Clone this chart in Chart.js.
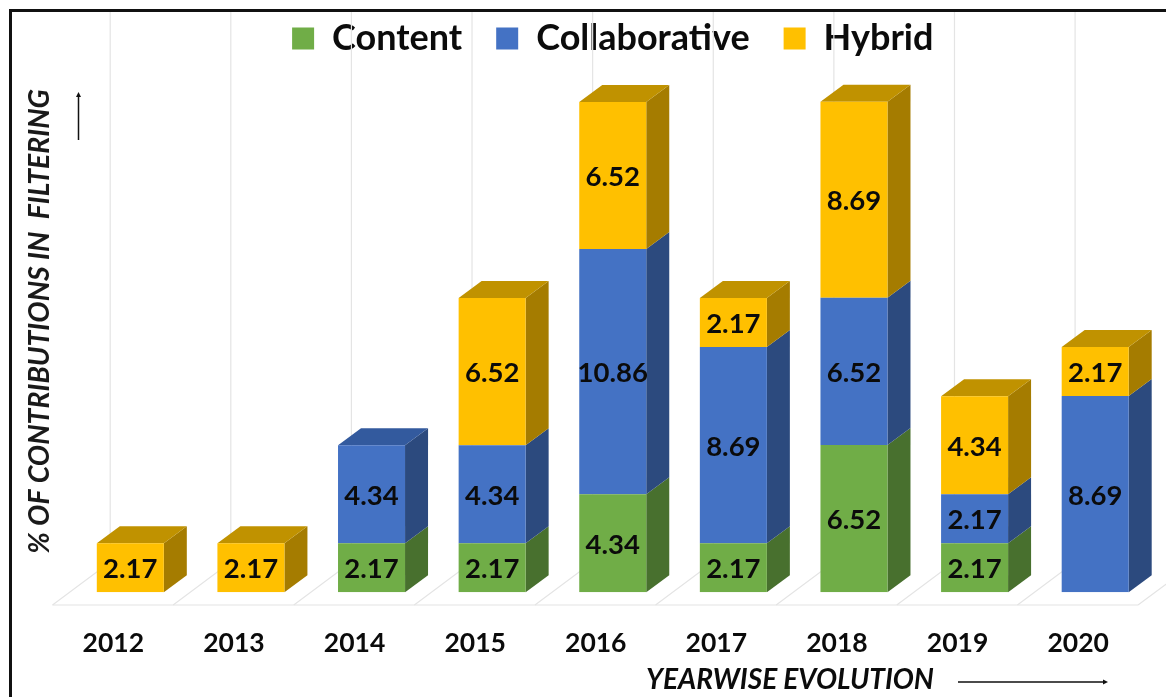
<!DOCTYPE html>
<html>
<head>
<meta charset="utf-8">
<title>Yearwise evolution</title>
<script src="https://cdn.jsdelivr.net/npm/chart.js@4"></script>
<style>
  body { margin: 0; background: #fff; }
  #wrap { position: relative; width: 1166px; height: 697px; overflow: hidden; }
  #frame { position: absolute; left: 9px; top: 9px; right: -5px; bottom: -5px; border-left: 3px solid #111; border-top: 3px solid #111; }
  canvas { position: absolute; left: 0; top: 0; }
</style>
</head>
<body>
<div id="wrap">
  <canvas id="myChart" width="1166" height="697"></canvas>
  <div id="frame"></div>
</div>
<script>
const years = ['2012', '2013', '2014', '2015', '2016', '2017', '2018', '2019', '2020'];
const content = [null, null, 2.17, 2.17, 4.34, 2.17, 6.52, 2.17, null];
const collaborative = [null, null, 4.34, 4.34, 10.86, 8.69, 6.52, 2.17, 8.69];
const hybrid = [2.17, 2.17, null, 6.52, 6.52, 2.17, 8.69, 4.34, 2.17];

const frontColors = ['#70AD47', '#4472C4', '#FFC000'];
const sideColors = ['#48702E', '#2C4A7E', '#A57C00'];
const topColors = ['#557F38', '#335A9E', '#C09200'];

const depthX = 23;
const depthY = 17;
const textFont = 'Lato, sans-serif';

function poly(ctx, pts, color) {
    ctx.fillStyle = color;
    ctx.beginPath();
    pts.forEach(function(p, i) {
        if (i === 0) ctx.moveTo(p[0], p[1]);
        else ctx.lineTo(p[0], p[1]);
    });
    ctx.closePath();
    ctx.fill();
}

// floor, back grid lines and the side/top faces of the bars
const box3d = {
    id: 'box3d',
    beforeDatasetsDraw(chart) {
        const ctx = chart.ctx;
        const x = chart.scales.x;
        const floorY = 605;
        const step = x.getPixelForValue(1) - x.getPixelForValue(0);
        const first = x.getPixelForValue(0) - step / 2 - 17.5;
        ctx.save();
        ctx.strokeStyle = '#e4e4e4';
        ctx.lineWidth = 1.2;
        for (let i = 0; i <= years.length; i++) {
            const fx = first + i * step;
            ctx.beginPath();
            ctx.moveTo(fx, floorY);
            ctx.lineTo(fx + 57.7, floorY - 43);
            ctx.lineTo(fx + 57.7, 10);
            ctx.stroke();
        }
        ctx.beginPath();
        ctx.moveTo(first, floorY);
        ctx.lineTo(first + years.length * step, floorY);
        ctx.stroke();

        chart.data.datasets.forEach(function(ds, d) {
            chart.getDatasetMeta(d).data.forEach(function(bar, i) {
                if (ds.data[i] === null) return;
                const r = bar.x + bar.width / 2;
                const l = bar.x - bar.width / 2;
                poly(ctx, [[r, bar.y], [r + depthX, bar.y - depthY], [r + depthX, bar.base - depthY], [r, bar.base]], sideColors[d]);
                // only the highest segment of a column shows its top face
                let isTop = true;
                for (let k = d + 1; k < chart.data.datasets.length; k++) {
                    if (chart.data.datasets[k].data[i] !== null) isTop = false;
                }
                if (isTop) {
                    poly(ctx, [[l, bar.y], [l + depthX, bar.y - depthY], [r + depthX, bar.y - depthY], [r, bar.y]], topColors[d]);
                }
            });
        });
        ctx.restore();
    },
    afterDatasetsDraw(chart) {
        const ctx = chart.ctx;
        ctx.save();
        ctx.fillStyle = '#0b0b0b';
        ctx.textAlign = 'center';
        ctx.textBaseline = 'middle';
        ctx.font = 'bold 27.5px ' + textFont;
        chart.data.datasets.forEach(function(ds, d) {
            chart.getDatasetMeta(d).data.forEach(function(bar, i) {
                if (ds.data[i] === null) return;
                ctx.fillText(ds.data[i].toFixed(2), bar.x, (bar.y + bar.base) / 2 + 1.5);
            });
        });

        // axis captions and the two arrows
        ctx.font = 'italic bold 28px ' + textFont;
        ctx.fillText('YEARWISE EVOLUTION', 790, 680);
        ctx.save();
        ctx.translate(40, 321.5);
        ctx.rotate(-Math.PI / 2);
        ctx.font = 'italic bold 28.4px ' + textFont;
        ctx.fillStyle = '#1a1a1a';
        ctx.fillText('% OF CONTRIBUTIONS IN  FILTERING', 0, 0);
        ctx.restore();
        ctx.strokeStyle = '#111';
        ctx.lineWidth = 1.5;
        ctx.beginPath();
        ctx.moveTo(958, 682);
        ctx.lineTo(1104, 682);
        ctx.moveTo(78.5, 140);
        ctx.lineTo(78.5, 96);
        ctx.stroke();
        poly(ctx, [[1108, 682], [1103, 679.5], [1103, 684.5]], '#111');
        poly(ctx, [[78.5, 92], [76, 97], [81, 97]], '#111');
        ctx.restore();
    }
};

new Chart(document.getElementById('myChart'), {
    type: 'bar',
    data: {
        labels: years,
        datasets: [
            { label: 'Content', data: content, backgroundColor: frontColors[0] },
            { label: 'Collaborative', data: collaborative, backgroundColor: frontColors[1] },
            { label: 'Hybrid', data: hybrid, backgroundColor: frontColors[2] }
        ]
    },
    options: {
        responsive: false,
        animation: false,
        layout: { padding: { top: -13.5, left: 70, right: 10.5, bottom: 3 } },
        datasets: { bar: { categoryPercentage: 1, barPercentage: 0.5556 } },
        plugins: {
            legend: {
                position: 'top',
                fullSize: false,
                labels: {
                    boxWidth: 22,
                    boxHeight: 22,
                    padding: 34,
                    color: '#0b0b0b',
                    font: { family: textFont, size: 36, weight: 'bold', lineHeight: 1 }
                }
            },
            tooltip: { enabled: false }
        },
        scales: {
            x: {
                stacked: true,
                grid: { display: false, drawTicks: false },
                border: { display: false },
                ticks: {
                    labelOffset: -17,
                    padding: 35,
                    color: '#0b0b0b',
                    maxRotation: 0,
                    font: { family: textFont, size: 26.5, weight: 'bold' }
                }
            },
            y: {
                display: false,
                stacked: true,
                min: 0,
                max: 23.29
            }
        }
    },
    plugins: [box3d]
});
</script>
</body>
</html>
